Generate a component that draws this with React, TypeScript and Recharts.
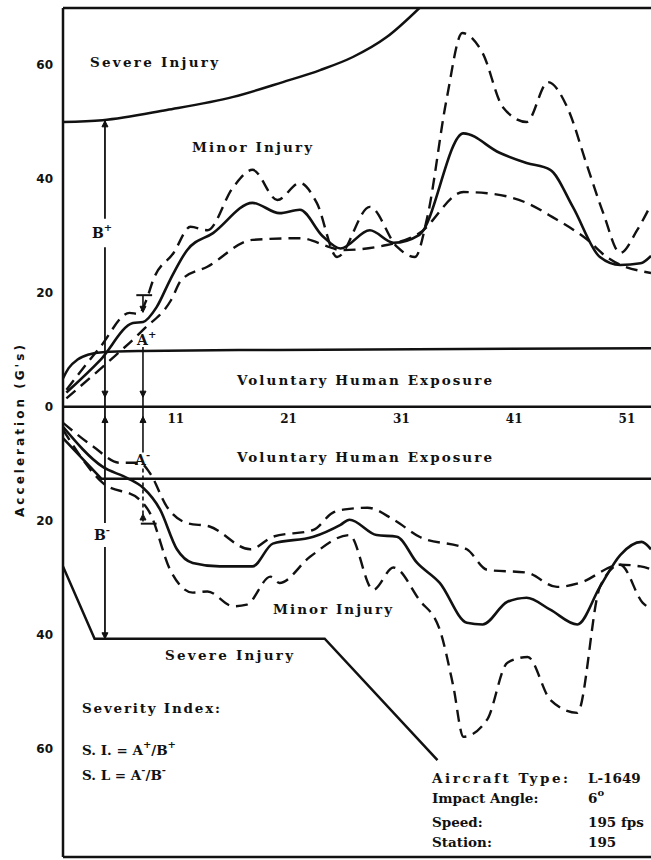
import React from "react";
import { LineChart, Line, XAxis, YAxis, ReferenceLine, ReferenceDot } from "recharts";

// axis ranges (G's, negative = below the time axis)
const X_DOMAIN = [1, 53.13];
const Y_DOMAIN = [-79, 70];
const xTicks = [11, 21, 31, 41, 51];
const yTicks = [60, 40, 20, 0, -20, -40, -60];

// injury / exposure boundaries
const severeTopX = [1, 4.5, 10.2, 16.1, 20.5, 23.8, 26.7, 29.7, 32.6];
const severeTopY = [50, 50.3, 52.1, 54.4, 57, 59.1, 61.4, 64.9, 70];
const volTopX = [1, 1.5, 2.3, 3.3, 4.5, 8, 20, 53.13];
const volTopY = [5, 6.8, 8.3, 9.2, 9.6, 9.8, 10, 10.3];
const volBotX = [1, 4.4, 53.13];
const volBotY = [-5.5, -12.6, -12.6];
const severeBotX = [1, 3.8, 24.2, 34.2];
const severeBotY = [-28, -40.7, -40.7, -62];

// upper (positive) curves
const upMeanX = [1.3, 4.3, 7.2, 8.1, 9.3, 10.5, 12, 14.3, 17.8, 20.2, 22, 24, 25.6, 28.2, 30.3, 32.6, 36.5, 39.7, 42.1, 44.2, 46.2, 48.6, 50.4, 52.2, 53.13];
const upMeanY = [2.5, 8.2, 14.7, 14.9, 17.5, 22.3, 27.5, 30.5, 35.8, 34, 34.6, 30, 27.8, 31, 28.8, 30.2, 48, 44.6, 42.8, 41.6, 35.1, 26.3, 24.9, 25.2, 26.5];
const upHighX = [1.3, 4.3, 6.9, 7.7, 8.4, 9, 10.8, 12.3, 13.8, 16.1, 17.8, 20, 22, 23.5, 25.3, 28.2, 30.6, 32.2, 33.3, 35, 36.4, 38.2, 40, 42.1, 44, 45.7, 47.5, 48.9, 50.4, 51.9, 53.13];
const upHighY = [3, 10.5, 16.5, 16.3, 18.8, 22.3, 27, 31.6, 31, 38.6, 41.6, 36.3, 39.3, 35.8, 26.3, 35.1, 28.1, 26.3, 33.3, 53.9, 65.6, 62.1, 52.6, 50, 57, 52.6, 42.1, 34, 27, 31, 35.5];
const upLowX = [1.3, 4.9, 8.1, 10.6, 11.5, 13.8, 17.8, 22, 24.7, 25.6, 29.7, 32.6, 36.5, 38.6, 42.1, 44.4, 47.5, 49.2, 53.13];
const upLowY = [1.5, 7.7, 13.5, 18.8, 22.3, 24.6, 29.3, 29.6, 28, 27.5, 28.4, 30.5, 37.7, 37.5, 35.8, 33.3, 29.3, 26.3, 23.5];

// lower (negative) curves
const loMeanX = [1, 4.5, 6.7, 8.1, 9.6, 11.1, 12.5, 14.9, 17.8, 19.6, 23.2, 25.6, 26.4, 28.8, 30.6, 32.4, 34.4, 36.8, 38.2, 40.4, 42.1, 44.2, 46.6, 48.6, 50.4, 52.3, 53.13];
const loMeanY = [-3.5, -10.5, -12.5, -14.2, -18, -25, -27.4, -28, -28, -24, -22.8, -20.7, -19.8, -22.5, -22.8, -27.4, -30.9, -37.9, -38.2, -34.2, -33.5, -35.6, -38.2, -31.6, -26, -23.7, -25];
const loHighX = [1, 3.7, 6, 7.8, 8.7, 10.2, 12, 14, 17.6, 19.6, 23.2, 24.9, 26, 28, 30.3, 32.6, 36.8, 38.6, 42.1, 44.8, 46.8, 50.4, 52.2, 53.13];
const loHighY = [-2.8, -7, -9.8, -9.8, -11.6, -17.5, -20.4, -21, -25, -22.8, -21.6, -18.6, -18, -17.7, -19.8, -22.8, -25, -28.6, -29.1, -31.6, -30.9, -27.7, -28, -28.5];
const loLowX = [1, 4.5, 7.8, 8.7, 10.5, 12.5, 13.8, 16.1, 17.3, 19.4, 20.2, 22.9, 26.4, 28.5, 30.3, 32.6, 34.4, 35.6, 36.5, 38.6, 40.4, 42.2, 44.2, 46.6, 48.6, 50.4, 52.4, 53.13];
const loLowY = [-4, -13.3, -16.3, -18.6, -28.6, -32.6, -32.4, -35, -34.7, -29.8, -30.9, -26.3, -22.5, -32.1, -28.2, -33.9, -39.1, -49, -57.9, -54.9, -44.9, -43.9, -51.4, -53.7, -31.6, -27.7, -34.4, -35.5];

// index annotation positions
const B_X = 4.72;
const A_X = 8.09;

const pts = (xs: number[], ys: number[]) => xs.map((x, i) => ({ x, y: ys[i] }));

const W = 651;
const H = 860;
const M = { top: 8, right: 0, bottom: 3, left: 0 };

const ink = "#111";
const serif = "'DejaVu Serif', serif";
const dash = "12 7";

// time tick labels hang just under the zero line
const timeTick = (label: number) => (p: any) => (
  <text x={p.cx} y={p.cy + 16} textAnchor="middle" fontFamily={serif} fontWeight="bold" fontSize={12} fill={ink}>
    {label}
  </text>
);

const arrow = (dir: "up" | "down") => (p: any) => {
  const { cx, cy } = p;
  const d = dir === "up" ? `M${cx - 3},${cy + 6} L${cx},${cy} L${cx + 3},${cy + 6} Z` : `M${cx - 3},${cy - 6} L${cx},${cy} L${cx + 3},${cy - 6} Z`;
  return <path d={d} fill={ink} stroke={ink} strokeWidth={1} />;
};

const lbl = {
  fontFamily: serif,
  fontWeight: "bold" as const,
  fontSize: 13.5,
  fill: ink,
};

export default function App() {
  return (
    <div style={{ position: "absolute", left: 0, top: 0, width: W, height: H, background: "#fff", overflow: "hidden" }}>
      <LineChart width={W} height={H} margin={M}>
        <XAxis type="number" dataKey="x" domain={X_DOMAIN} allowDataOverflow hide />
        <YAxis
          type="number"
          dataKey="y"
          domain={Y_DOMAIN}
          allowDataOverflow
          ticks={yTicks}
          tickFormatter={(v: number) => String(Math.abs(v))}
          width={63}
          axisLine={{ stroke: ink, strokeWidth: 2.5 }}
          tickLine={false}
          tickMargin={4}
          tick={{ fill: ink, fontSize: 12, fontWeight: "bold", fontFamily: "'DejaVu Sans', sans-serif" }}
        />

        {/* frame and time axis */}
        <ReferenceLine y={Y_DOMAIN[1]} stroke={ink} strokeWidth={2.5} />
        <ReferenceLine y={Y_DOMAIN[0]} stroke={ink} strokeWidth={2.5} />
        <ReferenceLine y={0} stroke={ink} strokeWidth={2.5} />
        {xTicks.map((t) => (
          <ReferenceDot key={t} x={t} y={0} shape={timeTick(t)} />
        ))}

        {/* boundaries */}
        <Line data={pts(severeTopX, severeTopY)} dataKey="y" type="monotone" stroke={ink} strokeWidth={2.5} dot={false} isAnimationActive={false} />
        <Line data={pts(volTopX, volTopY)} dataKey="y" type="monotone" stroke={ink} strokeWidth={2.5} dot={false} isAnimationActive={false} />
        <Line data={pts(volBotX, volBotY)} dataKey="y" type="linear" stroke={ink} strokeWidth={2.5} dot={false} isAnimationActive={false} />
        <Line data={pts(severeBotX, severeBotY)} dataKey="y" type="linear" stroke={ink} strokeWidth={2.5} dot={false} isAnimationActive={false} />

        {/* response curves */}
        <Line data={pts(upHighX, upHighY)} dataKey="y" type="monotone" stroke={ink} strokeWidth={2.4} strokeDasharray={dash} dot={false} isAnimationActive={false} />
        <Line data={pts(upMeanX, upMeanY)} dataKey="y" type="monotone" stroke={ink} strokeWidth={2.6} dot={false} isAnimationActive={false} />
        <Line data={pts(upLowX, upLowY)} dataKey="y" type="monotone" stroke={ink} strokeWidth={2.4} strokeDasharray={dash} dot={false} isAnimationActive={false} />
        <Line data={pts(loHighX, loHighY)} dataKey="y" type="monotone" stroke={ink} strokeWidth={2.4} strokeDasharray={dash} dot={false} isAnimationActive={false} />
        <Line data={pts(loMeanX, loMeanY)} dataKey="y" type="monotone" stroke={ink} strokeWidth={2.6} dot={false} isAnimationActive={false} />
        <Line data={pts(loLowX, loLowY)} dataKey="y" type="monotone" stroke={ink} strokeWidth={2.4} strokeDasharray={dash} dot={false} isAnimationActive={false} />

        {/* B+ / B- distance markers */}
        <ReferenceLine segment={[{ x: B_X, y: 50.2 }, { x: B_X, y: 33 }]} stroke={ink} strokeWidth={1.8} />
        <ReferenceLine segment={[{ x: B_X, y: 28 }, { x: B_X, y: 0 }]} stroke={ink} strokeWidth={1.8} />
        <ReferenceLine segment={[{ x: B_X, y: 0 }, { x: B_X, y: -20.4 }]} stroke={ink} strokeWidth={1.8} />
        <ReferenceLine segment={[{ x: B_X, y: -24.6 }, { x: B_X, y: -40.7 }]} stroke={ink} strokeWidth={1.8} />
        <ReferenceDot x={B_X} y={50.2} shape={arrow("up")} />
        <ReferenceDot x={B_X} y={1.7} shape={arrow("down")} />
        <ReferenceDot x={B_X} y={-1.7} shape={arrow("up")} />
        <ReferenceDot x={B_X} y={-40.7} shape={arrow("down")} />

        {/* A+ / A- markers */}
        <ReferenceLine segment={[{ x: A_X, y: 0 }, { x: A_X, y: 10.5 }]} stroke={ink} strokeWidth={1.6} />
        <ReferenceLine segment={[{ x: A_X, y: 19.6 }, { x: A_X, y: 16.6 }]} stroke={ink} strokeWidth={1.6} />
        <ReferenceLine segment={[{ x: 7.5, y: 19.6 }, { x: 8.9, y: 19.6 }]} stroke={ink} strokeWidth={2} />
        <ReferenceDot x={A_X} y={16.6} shape={arrow("down")} />
        <ReferenceDot x={A_X} y={1.7} shape={arrow("down")} />
        <ReferenceDot x={A_X} y={-1.7} shape={arrow("up")} />
        <ReferenceLine segment={[{ x: A_X, y: 0 }, { x: A_X, y: -8 }]} stroke={ink} strokeWidth={1.6} />
        <ReferenceLine segment={[{ x: A_X, y: -10.8 }, { x: A_X, y: -20.5 }]} stroke={ink} strokeWidth={1.6} strokeDasharray="4 3" />
        <ReferenceLine segment={[{ x: 7.9, y: -20.5 }, { x: 9.3, y: -20.5 }]} stroke={ink} strokeWidth={2} />
        <ReferenceDot x={A_X} y={-18.8} shape={arrow("up")} />
      </LineChart>

      <svg width={W} height={H} style={{ position: "absolute", left: 0, top: 0, pointerEvents: "none" }}>
        <text transform="translate(24,431) rotate(-90)" textAnchor="middle" fontFamily="'DejaVu Sans', sans-serif" fontWeight="bold" fontSize={12} fill={ink} textLength={172} lengthAdjust="spacing">
          Acceleration (G's)
        </text>

        <text x={90} y={67} {...lbl} textLength={128} lengthAdjust="spacing">Severe Injury</text>
        <text x={192} y={152} {...lbl} textLength={120} lengthAdjust="spacing">Minor Injury</text>
        <text x={237} y={385} {...lbl} textLength={255} lengthAdjust="spacing">Voluntary Human Exposure</text>
        <text x={237} y={462} {...lbl} textLength={255} lengthAdjust="spacing">Voluntary Human Exposure</text>
        <text x={273} y={614} {...lbl} textLength={119} lengthAdjust="spacing">Minor Injury</text>
        <text x={165} y={660} {...lbl} textLength={128} lengthAdjust="spacing">Severe Injury</text>

        <text x={92} y={238} {...lbl} fontSize={14}>B<tspan dy={-7} fontSize={10}>+</tspan></text>
        <text x={94} y={540} {...lbl} fontSize={14}>B<tspan dy={-7} fontSize={10}>-</tspan></text>
        <text x={137} y={345} {...lbl} fontSize={14}>A<tspan dy={-7} fontSize={10}>+</tspan></text>
        <text x={135} y={465} {...lbl} fontSize={14}>A<tspan dy={-7} fontSize={10}>-</tspan></text>

        <text x={82} y={713} {...lbl} textLength={138} lengthAdjust="spacing">Severity Index:</text>
        <text x={82} y={755} {...lbl}>S. I. = A<tspan dy={-7} fontSize={10}>+</tspan><tspan dy={7}>/B</tspan><tspan dy={-7} fontSize={10}>+</tspan></text>
        <text x={82} y={780} {...lbl}>S. L = A<tspan dy={-7} fontSize={10}>-</tspan><tspan dy={7}>/B</tspan><tspan dy={-7} fontSize={10}>-</tspan></text>

        <text x={432} y={783} {...lbl} textLength={136} lengthAdjust="spacing">Aircraft Type:</text>
        <text x={432} y={803} {...lbl}>Impact Angle:</text>
        <text x={432} y={827} {...lbl}>Speed:</text>
        <text x={432} y={847} {...lbl}>Station:</text>
        <text x={588} y={783} {...lbl}>L-1649</text>
        <text x={588} y={803} {...lbl}>6<tspan dy={-7} fontSize={10}>o</tspan></text>
        <text x={588} y={827} {...lbl}>195 fps</text>
        <text x={588} y={847} {...lbl}>195</text>
      </svg>
    </div>
  );
}
